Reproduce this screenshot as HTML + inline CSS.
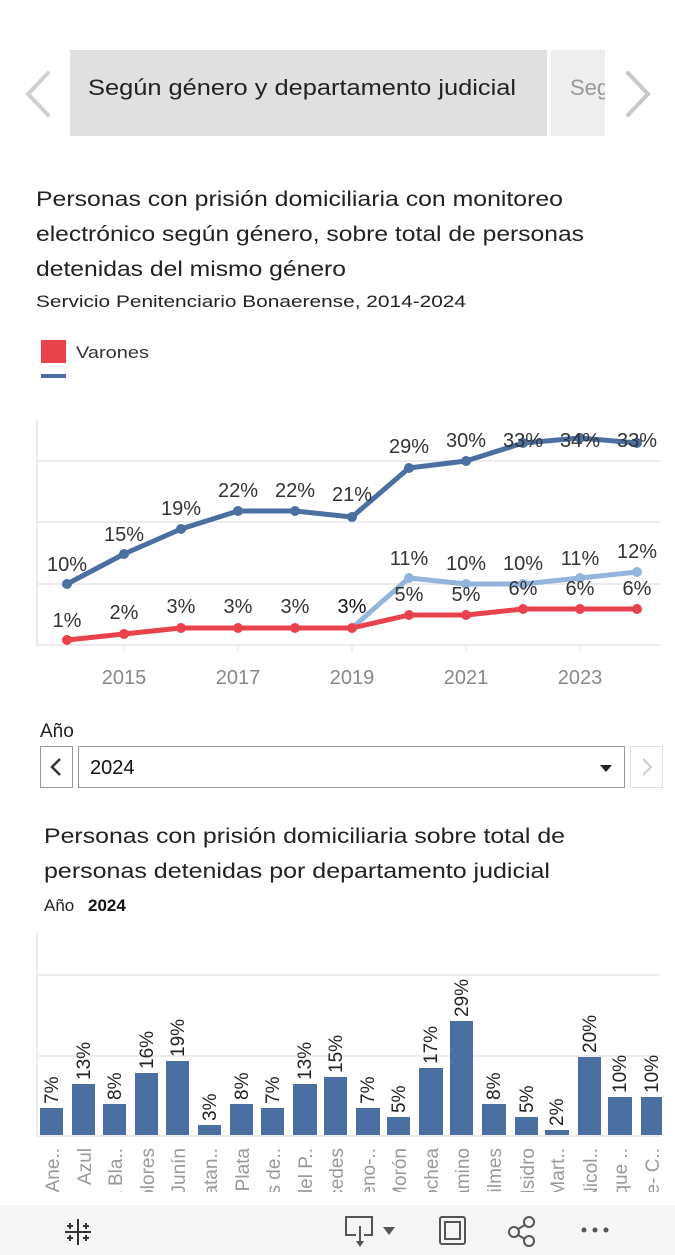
<!DOCTYPE html>
<html><head><meta charset="utf-8"><style>
html,body{margin:0;padding:0;background:#fff;width:675px;height:1255px;overflow:hidden}
svg{display:block;font-family:"Liberation Sans",sans-serif}
</style></head><body>
<svg width="675" height="1255" viewBox="0 0 675 1255" xmlns="http://www.w3.org/2000/svg">
<polyline points="48,73 28,94 48,115" fill="none" stroke="#d0d0d0" stroke-width="4" stroke-linecap="round"/>
<rect x="70" y="50" width="477" height="86" fill="#e0e0e0"/>
<rect x="551" y="50" width="54" height="86" fill="#eeeeee"/>
<text x="88" y="95" font-size="22" fill="#222" textLength="428" lengthAdjust="spacingAndGlyphs">Según género y departamento judicial</text>
<svg x="551" y="50" width="54" height="86"><text x="19" y="45" font-size="22" fill="#999">Seg</text></svg>
<polyline points="628,73 648,94 628,115" fill="none" stroke="#c8c8c8" stroke-width="4" stroke-linecap="round"/>
<g fill="#222" font-size="21">
<text x="36" y="206" textLength="527" lengthAdjust="spacingAndGlyphs">Personas con prisión domiciliaria con monitoreo</text>
<text x="36" y="241" textLength="548" lengthAdjust="spacingAndGlyphs">electrónico según género, sobre total de personas</text>
<text x="36" y="276" textLength="310" lengthAdjust="spacingAndGlyphs">detenidas del mismo género</text>
</g>
<text x="36" y="307" font-size="17" fill="#222" textLength="430" lengthAdjust="spacingAndGlyphs">Servicio Penitenciario Bonaerense, 2014-2024</text>
<rect x="41" y="340" width="25" height="23" fill="#e8434c"/>
<text x="76" y="358" font-size="17" fill="#333" textLength="73" lengthAdjust="spacingAndGlyphs">Varones</text>
<rect x="41" y="374" width="25" height="4" fill="#4a6fa0"/>
<g stroke="#ececec" stroke-width="2">
<line x1="37" y1="461" x2="660" y2="461"/>
<line x1="37" y1="522" x2="660" y2="522"/>
<line x1="37" y1="584" x2="660" y2="584"/>
<line x1="37" y1="645" x2="660" y2="645"/>
<line x1="37" y1="420" x2="37" y2="645"/>
</g>
<g stroke="#e4e4e4" stroke-width="1">
<line x1="124" y1="645" x2="124" y2="652"/><line x1="238" y1="645" x2="238" y2="652"/><line x1="352" y1="645" x2="352" y2="652"/><line x1="466" y1="645" x2="466" y2="652"/><line x1="580" y1="645" x2="580" y2="652"/>
</g>
<g font-size="20" fill="#888" text-anchor="middle">
<text x="124" y="684">2015</text><text x="238" y="684">2017</text><text x="352" y="684">2019</text><text x="466" y="684">2021</text><text x="580" y="684">2023</text>
</g>
<polyline fill="none" stroke="#93b5dc" stroke-width="5" stroke-linejoin="round" points="352,628 409,578 466,584 523,584 580,578 637,572"/>
<g fill="#93b5dc"><circle cx="409" cy="578" r="5"/><circle cx="466" cy="584" r="5"/><circle cx="523" cy="584" r="5"/><circle cx="580" cy="578" r="5"/><circle cx="637" cy="572" r="5"/></g>
<polyline fill="none" stroke="#4a6fa0" stroke-width="5" stroke-linejoin="round" points="67,584 124,554 181,529 238,511 295,511 352,517 409,468 466,461 523,443 580,438 637,443"/>
<g fill="#4a6fa0"><circle cx="67" cy="584" r="5"/><circle cx="124" cy="554" r="5"/><circle cx="181" cy="529" r="5"/><circle cx="238" cy="511" r="5"/><circle cx="295" cy="511" r="5"/><circle cx="352" cy="517" r="5"/><circle cx="409" cy="468" r="5"/><circle cx="466" cy="461" r="5"/><circle cx="523" cy="443" r="5"/><circle cx="580" cy="438" r="5"/><circle cx="637" cy="443" r="5"/></g>
<polyline fill="none" stroke="#e8434c" stroke-width="5" stroke-linejoin="round" points="67,640 124,634 181,628 238,628 295,628 352,628 409,615 466,615 523,609 580,609 637,609"/>
<g fill="#e8434c"><circle cx="67" cy="640" r="5"/><circle cx="124" cy="634" r="5"/><circle cx="181" cy="628" r="5"/><circle cx="238" cy="628" r="5"/><circle cx="295" cy="628" r="5"/><circle cx="352" cy="628" r="5"/><circle cx="409" cy="615" r="5"/><circle cx="466" cy="615" r="5"/><circle cx="523" cy="609" r="5"/><circle cx="580" cy="609" r="5"/><circle cx="637" cy="609" r="5"/></g>
<g font-size="20" fill="#333" text-anchor="middle">
<text x="67" y="571">10%</text><text x="124" y="541">15%</text><text x="181" y="515">19%</text><text x="238" y="497">22%</text><text x="295" y="497">22%</text><text x="352" y="501">21%</text><text x="409" y="453">29%</text><text x="466" y="447">30%</text><text x="523" y="447">33%</text><text x="580" y="447">34%</text><text x="637" y="447">33%</text>
<text x="409" y="565">11%</text><text x="466" y="570">10%</text><text x="523" y="570">10%</text><text x="580" y="565">11%</text><text x="637" y="558">12%</text>
<text x="67" y="627">1%</text><text x="124" y="619">2%</text><text x="181" y="613">3%</text><text x="238" y="613">3%</text><text x="295" y="613">3%</text><text x="352" y="613" fill="#111">3%</text><text x="409" y="601">5%</text><text x="466" y="601">5%</text><text x="523" y="595">6%</text><text x="580" y="595">6%</text><text x="637" y="595">6%</text>
</g>
<text x="40" y="737" font-size="19" fill="#222">Año</text>
<rect x="40.5" y="746.5" width="32" height="41" fill="#fff" stroke="#999"/>
<polyline points="60,759 52,767 60,775" fill="none" stroke="#333" stroke-width="2.5"/>
<rect x="78.5" y="746.5" width="546" height="41" fill="#fff" stroke="#999"/>
<text x="90" y="774" font-size="20" fill="#111">2024</text>
<polygon points="600,765 612,765 606,772" fill="#222"/>
<rect x="630.5" y="746.5" width="32" height="41" fill="#fff" stroke="#e0e0e0"/>
<polyline points="643,759 651,767 643,775" fill="none" stroke="#ccc" stroke-width="2"/>
<g fill="#222" font-size="21">
<text x="44" y="843" textLength="521" lengthAdjust="spacingAndGlyphs">Personas con prisión domiciliaria sobre total de</text>
<text x="44" y="878" textLength="506" lengthAdjust="spacingAndGlyphs">personas detenidas por departamento judicial</text>
</g>
<text x="44" y="911" font-size="17" fill="#222">Año</text>
<text x="88" y="911" font-size="17" font-weight="bold" fill="#111">2024</text>
<g stroke="#ededed" stroke-width="2">
<line x1="37" y1="975" x2="660" y2="975"/><line x1="37" y1="1056" x2="660" y2="1056"/><line x1="37" y1="1136" x2="660" y2="1136"/><line x1="37" y1="933" x2="37" y2="1136"/>
</g>
<g fill="#4a6fa0">
<rect x="40" y="1108" width="23" height="27"/><rect x="72" y="1084" width="23" height="51"/><rect x="103" y="1104" width="23" height="31"/><rect x="135" y="1073" width="23" height="62"/><rect x="166" y="1061" width="23" height="74"/><rect x="198" y="1125" width="23" height="10"/><rect x="230" y="1104" width="23" height="31"/><rect x="261" y="1108" width="23" height="27"/><rect x="293" y="1084" width="24" height="51"/><rect x="324" y="1077" width="23" height="58"/><rect x="356" y="1108" width="24" height="27"/><rect x="387" y="1117" width="23" height="18"/><rect x="419" y="1068" width="24" height="67"/><rect x="450" y="1021" width="23" height="114"/><rect x="482" y="1104" width="24" height="31"/><rect x="515" y="1117" width="23" height="18"/><rect x="545" y="1130" width="24" height="5"/><rect x="578" y="1057" width="23" height="78"/><rect x="608" y="1097" width="24" height="38"/><rect x="641" y="1097" width="21" height="38"/>
</g>
<g font-size="19" fill="#222">
<text transform="translate(58,1104) rotate(-90)">7%</text>
<text transform="translate(90,1080) rotate(-90)">13%</text>
<text transform="translate(121,1100) rotate(-90)">8%</text>
<text transform="translate(153,1069) rotate(-90)">16%</text>
<text transform="translate(184,1057) rotate(-90)">19%</text>
<text transform="translate(216,1121) rotate(-90)">3%</text>
<text transform="translate(248,1100) rotate(-90)">8%</text>
<text transform="translate(279,1104) rotate(-90)">7%</text>
<text transform="translate(311,1080) rotate(-90)">13%</text>
<text transform="translate(342,1073) rotate(-90)">15%</text>
<text transform="translate(374,1104) rotate(-90)">7%</text>
<text transform="translate(405,1113) rotate(-90)">5%</text>
<text transform="translate(437,1064) rotate(-90)">17%</text>
<text transform="translate(468,1017) rotate(-90)">29%</text>
<text transform="translate(500,1100) rotate(-90)">8%</text>
<text transform="translate(533,1113) rotate(-90)">5%</text>
<text transform="translate(563,1126) rotate(-90)">2%</text>
<text transform="translate(596,1053) rotate(-90)">20%</text>
<text transform="translate(626,1093) rotate(-90)">10%</text>
<text transform="translate(658,1093) rotate(-90)">10%</text>
</g>
<svg x="0" y="1140" width="675" height="52">
<g font-size="19" fill="#999" text-anchor="end">
<text transform="translate(59,8) rotate(-90)">Bahía Blanca-Ane..</text>
<text transform="translate(91,8) rotate(-90)">Azul</text>
<text transform="translate(122,8) rotate(-90)">Bahía Bla..</text>
<text transform="translate(154,8) rotate(-90)">Dolores</text>
<text transform="translate(185,8) rotate(-90)">Junín</text>
<text transform="translate(217,8) rotate(-90)">La Matan..</text>
<text transform="translate(249,8) rotate(-90)">La Plata</text>
<text transform="translate(280,8) rotate(-90)">Lomas de..</text>
<text transform="translate(312,8) rotate(-90)">Mar del P..</text>
<text transform="translate(343,8) rotate(-90)">Mercedes</text>
<text transform="translate(375,8) rotate(-90)">Moreno-..</text>
<text transform="translate(406,8) rotate(-90)">Morón</text>
<text transform="translate(438,8) rotate(-90)">Necochea</text>
<text transform="translate(469,8) rotate(-90)">Pergamino</text>
<text transform="translate(501,8) rotate(-90)">Quilmes</text>
<text transform="translate(534,8) rotate(-90)">San Isidro</text>
<text transform="translate(564,8) rotate(-90)">San Mart..</text>
<text transform="translate(597,8) rotate(-90)">San Nicol..</text>
<text transform="translate(627,8) rotate(-90)">Trenque ..</text>
<text transform="translate(659,8) rotate(-90)">Zárate- C..</text>
</g>
</svg>
<rect x="0" y="1205" width="675" height="50" fill="#f6f6f6"/>
<g stroke="#333" stroke-width="2">
<line x1="78" y1="1219" x2="78" y2="1245"/><line x1="65" y1="1232" x2="91" y2="1232"/>
<line x1="70" y1="1223" x2="70" y2="1229"/><line x1="67" y1="1226" x2="73" y2="1226"/>
<line x1="86" y1="1223" x2="86" y2="1229"/><line x1="83" y1="1226" x2="89" y2="1226"/>
<line x1="70" y1="1235" x2="70" y2="1241"/><line x1="67" y1="1238" x2="73" y2="1238"/>
<line x1="86" y1="1235" x2="86" y2="1241"/><line x1="83" y1="1238" x2="89" y2="1238"/>
</g>
<g fill="none" stroke="#555" stroke-width="2">
<path d="M356,1235 H346 V1217 H372 V1235 H364"/><line x1="360" y1="1226" x2="360" y2="1243"/>
<rect x="440" y="1217" width="25" height="27" rx="2"/><rect x="445" y="1222" width="15" height="17"/>
<circle cx="514" cy="1232" r="5"/><circle cx="529" cy="1222" r="5"/><circle cx="529" cy="1241" r="5"/><line x1="518" y1="1229" x2="525" y2="1225"/><line x1="518" y1="1235" x2="525" y2="1239"/>
</g>
<polygon points="356,1241 364,1241 360,1247" fill="#555"/>
<polygon points="383,1227 395,1227 389,1235" fill="#555"/>
<g fill="#555"><circle cx="584" cy="1230" r="2.5"/><circle cx="595" cy="1230" r="2.5"/><circle cx="606" cy="1230" r="2.5"/></g>
</svg>
</body></html>
